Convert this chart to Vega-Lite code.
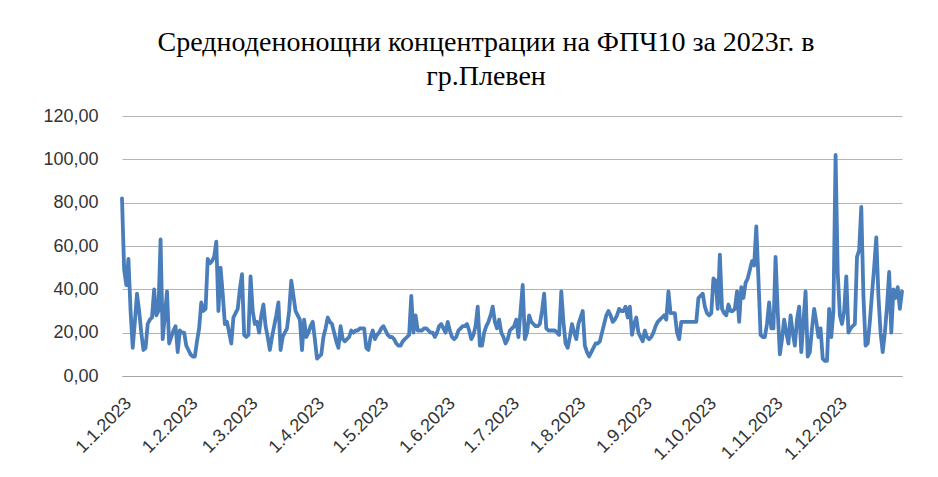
{
"$schema":"https://vega.github.io/schema/vega-lite/v6.json",
"width":780,"height":260,
"autosize":{"type":"none"},
"padding":{"left":122,"top":116,"right":36,"bottom":101},
"background":"white",
"title":{"text":["Средноденонощни концентрации на ФПЧ10 за 2023г.  в","гр.Плевен"],"font":"Liberation Serif","fontSize":28,"fontWeight":"normal","color":"#000000","anchor":"middle","frame":"group","lineHeight":34,"offset":16,"dx":-26},
"data":{"values":[
{"date":"2023-01-01","v":82},{"date":"2023-01-02","v":49},{"date":"2023-01-03","v":42},{"date":"2023-01-04","v":54},{"date":"2023-01-05","v":30},{"date":"2023-01-06","v":13},{"date":"2023-01-07","v":25},{"date":"2023-01-08","v":38},{"date":"2023-01-09","v":30},{"date":"2023-01-10","v":20},{"date":"2023-01-11","v":12},{"date":"2023-01-12","v":13},{"date":"2023-01-13","v":24},{"date":"2023-01-14","v":26},{"date":"2023-01-15","v":27},{"date":"2023-01-16","v":40},{"date":"2023-01-17","v":28},{"date":"2023-01-18","v":30},{"date":"2023-01-19","v":63},{"date":"2023-01-20","v":17},{"date":"2023-01-21","v":28},{"date":"2023-01-22","v":39},{"date":"2023-01-23","v":15},{"date":"2023-01-24","v":18},{"date":"2023-01-25","v":21},{"date":"2023-01-26","v":23},{"date":"2023-01-27","v":11},{"date":"2023-01-28","v":21},{"date":"2023-01-29","v":20},{"date":"2023-01-30","v":20},{"date":"2023-01-31","v":14},
{"date":"2023-02-01","v":12},{"date":"2023-02-02","v":10},{"date":"2023-02-03","v":9},{"date":"2023-02-04","v":9},{"date":"2023-02-05","v":16},{"date":"2023-02-06","v":22},{"date":"2023-02-07","v":34},{"date":"2023-02-08","v":30},{"date":"2023-02-09","v":31},{"date":"2023-02-10","v":54},{"date":"2023-02-11","v":52},{"date":"2023-02-12","v":53},{"date":"2023-02-13","v":55},{"date":"2023-02-14","v":62},{"date":"2023-02-15","v":30},{"date":"2023-02-16","v":50},{"date":"2023-02-17","v":38},{"date":"2023-02-18","v":24},{"date":"2023-02-19","v":25},{"date":"2023-02-20","v":20},{"date":"2023-02-21","v":15},{"date":"2023-02-22","v":27},{"date":"2023-02-23","v":29},{"date":"2023-02-24","v":31},{"date":"2023-02-25","v":40},{"date":"2023-02-26","v":47},{"date":"2023-02-27","v":19},{"date":"2023-02-28","v":18},
{"date":"2023-03-01","v":19},{"date":"2023-03-02","v":46},{"date":"2023-03-03","v":30},{"date":"2023-03-04","v":24},{"date":"2023-03-05","v":25},{"date":"2023-03-06","v":20},{"date":"2023-03-07","v":28},{"date":"2023-03-08","v":33},{"date":"2023-03-09","v":23},{"date":"2023-03-10","v":18},{"date":"2023-03-11","v":12},{"date":"2023-03-12","v":18},{"date":"2023-03-13","v":23},{"date":"2023-03-14","v":28},{"date":"2023-03-15","v":34},{"date":"2023-03-16","v":12},{"date":"2023-03-17","v":18},{"date":"2023-03-18","v":20},{"date":"2023-03-19","v":22},{"date":"2023-03-20","v":30},{"date":"2023-03-21","v":44},{"date":"2023-03-22","v":37},{"date":"2023-03-23","v":30},{"date":"2023-03-24","v":28},{"date":"2023-03-25","v":26},{"date":"2023-03-26","v":12},{"date":"2023-03-27","v":26},{"date":"2023-03-28","v":18},{"date":"2023-03-29","v":20},{"date":"2023-03-30","v":23},{"date":"2023-03-31","v":25},
{"date":"2023-04-01","v":17},{"date":"2023-04-02","v":8},{"date":"2023-04-03","v":9},{"date":"2023-04-04","v":10},{"date":"2023-04-05","v":18},{"date":"2023-04-06","v":22},{"date":"2023-04-07","v":27},{"date":"2023-04-08","v":25},{"date":"2023-04-09","v":24},{"date":"2023-04-10","v":20},{"date":"2023-04-11","v":16},{"date":"2023-04-12","v":13},{"date":"2023-04-13","v":23},{"date":"2023-04-14","v":17},{"date":"2023-04-15","v":16},{"date":"2023-04-16","v":17},{"date":"2023-04-17","v":18},{"date":"2023-04-18","v":21},{"date":"2023-04-19","v":20},{"date":"2023-04-20","v":21},{"date":"2023-04-21","v":21},{"date":"2023-04-22","v":22},{"date":"2023-04-23","v":22},{"date":"2023-04-24","v":22},{"date":"2023-04-25","v":13},{"date":"2023-04-26","v":12},{"date":"2023-04-27","v":18},{"date":"2023-04-28","v":21},{"date":"2023-04-29","v":17},{"date":"2023-04-30","v":19},
{"date":"2023-05-01","v":20},{"date":"2023-05-02","v":22},{"date":"2023-05-03","v":23},{"date":"2023-05-04","v":21},{"date":"2023-05-05","v":19},{"date":"2023-05-06","v":18},{"date":"2023-05-07","v":18},{"date":"2023-05-08","v":17},{"date":"2023-05-09","v":15},{"date":"2023-05-10","v":14},{"date":"2023-05-11","v":14},{"date":"2023-05-12","v":16},{"date":"2023-05-13","v":17},{"date":"2023-05-14","v":18},{"date":"2023-05-15","v":19},{"date":"2023-05-16","v":37},{"date":"2023-05-17","v":20},{"date":"2023-05-18","v":28},{"date":"2023-05-19","v":21},{"date":"2023-05-20","v":21},{"date":"2023-05-21","v":21},{"date":"2023-05-22","v":22},{"date":"2023-05-23","v":22},{"date":"2023-05-24","v":21},{"date":"2023-05-25","v":20},{"date":"2023-05-26","v":20},{"date":"2023-05-27","v":18},{"date":"2023-05-28","v":20},{"date":"2023-05-29","v":23},{"date":"2023-05-30","v":24},{"date":"2023-05-31","v":22},
{"date":"2023-06-01","v":20},{"date":"2023-06-02","v":25},{"date":"2023-06-03","v":21},{"date":"2023-06-04","v":18},{"date":"2023-06-05","v":17},{"date":"2023-06-06","v":18},{"date":"2023-06-07","v":21},{"date":"2023-06-08","v":22},{"date":"2023-06-09","v":23},{"date":"2023-06-10","v":23},{"date":"2023-06-11","v":24},{"date":"2023-06-12","v":21},{"date":"2023-06-13","v":17},{"date":"2023-06-14","v":19},{"date":"2023-06-15","v":23},{"date":"2023-06-16","v":32},{"date":"2023-06-17","v":14},{"date":"2023-06-18","v":14},{"date":"2023-06-19","v":20},{"date":"2023-06-20","v":23},{"date":"2023-06-21","v":25},{"date":"2023-06-22","v":28},{"date":"2023-06-23","v":32},{"date":"2023-06-24","v":25},{"date":"2023-06-25","v":22},{"date":"2023-06-26","v":26},{"date":"2023-06-27","v":20},{"date":"2023-06-28","v":18},{"date":"2023-06-29","v":15},{"date":"2023-06-30","v":17},
{"date":"2023-07-01","v":21},{"date":"2023-07-02","v":22},{"date":"2023-07-03","v":23},{"date":"2023-07-04","v":26},{"date":"2023-07-05","v":18},{"date":"2023-07-06","v":30},{"date":"2023-07-07","v":42},{"date":"2023-07-08","v":17},{"date":"2023-07-09","v":20},{"date":"2023-07-10","v":28},{"date":"2023-07-11","v":25},{"date":"2023-07-12","v":24},{"date":"2023-07-13","v":23},{"date":"2023-07-14","v":23},{"date":"2023-07-15","v":24},{"date":"2023-07-16","v":30},{"date":"2023-07-17","v":38},{"date":"2023-07-18","v":22},{"date":"2023-07-19","v":21},{"date":"2023-07-20","v":21},{"date":"2023-07-21","v":21},{"date":"2023-07-22","v":21},{"date":"2023-07-23","v":20},{"date":"2023-07-24","v":19},{"date":"2023-07-25","v":39},{"date":"2023-07-26","v":25},{"date":"2023-07-27","v":15},{"date":"2023-07-28","v":13},{"date":"2023-07-29","v":18},{"date":"2023-07-30","v":24},{"date":"2023-07-31","v":20},
{"date":"2023-08-01","v":17},{"date":"2023-08-02","v":24},{"date":"2023-08-03","v":27},{"date":"2023-08-04","v":30},{"date":"2023-08-05","v":14},{"date":"2023-08-06","v":11},{"date":"2023-08-07","v":9},{"date":"2023-08-08","v":11},{"date":"2023-08-09","v":13},{"date":"2023-08-10","v":15},{"date":"2023-08-11","v":15},{"date":"2023-08-12","v":16},{"date":"2023-08-13","v":20},{"date":"2023-08-14","v":24},{"date":"2023-08-15","v":28},{"date":"2023-08-16","v":30},{"date":"2023-08-17","v":28},{"date":"2023-08-18","v":25},{"date":"2023-08-19","v":26},{"date":"2023-08-20","v":28},{"date":"2023-08-21","v":31},{"date":"2023-08-22","v":30},{"date":"2023-08-23","v":30},{"date":"2023-08-24","v":32},{"date":"2023-08-25","v":27},{"date":"2023-08-26","v":32},{"date":"2023-08-27","v":19},{"date":"2023-08-28","v":24},{"date":"2023-08-29","v":27},{"date":"2023-08-30","v":20},{"date":"2023-08-31","v":18},
{"date":"2023-09-01","v":16},{"date":"2023-09-02","v":21},{"date":"2023-09-03","v":18},{"date":"2023-09-04","v":17},{"date":"2023-09-05","v":18},{"date":"2023-09-06","v":20},{"date":"2023-09-07","v":23},{"date":"2023-09-08","v":25},{"date":"2023-09-09","v":26},{"date":"2023-09-10","v":27},{"date":"2023-09-11","v":28},{"date":"2023-09-12","v":26},{"date":"2023-09-13","v":39},{"date":"2023-09-14","v":29},{"date":"2023-09-15","v":29},{"date":"2023-09-16","v":29},{"date":"2023-09-17","v":20},{"date":"2023-09-18","v":17},{"date":"2023-09-19","v":25},{"date":"2023-09-20","v":25},{"date":"2023-09-21","v":25},{"date":"2023-09-22","v":25},{"date":"2023-09-23","v":25},{"date":"2023-09-24","v":25},{"date":"2023-09-25","v":25},{"date":"2023-09-26","v":25},{"date":"2023-09-27","v":36},{"date":"2023-09-28","v":37},{"date":"2023-09-29","v":38},{"date":"2023-09-30","v":32},
{"date":"2023-10-01","v":29},{"date":"2023-10-02","v":28},{"date":"2023-10-03","v":29},{"date":"2023-10-04","v":45},{"date":"2023-10-05","v":44},{"date":"2023-10-06","v":31},{"date":"2023-10-07","v":56},{"date":"2023-10-08","v":31},{"date":"2023-10-09","v":29},{"date":"2023-10-10","v":28},{"date":"2023-10-11","v":33},{"date":"2023-10-12","v":30},{"date":"2023-10-13","v":30},{"date":"2023-10-14","v":31},{"date":"2023-10-15","v":39},{"date":"2023-10-16","v":25},{"date":"2023-10-17","v":41},{"date":"2023-10-18","v":36},{"date":"2023-10-19","v":43},{"date":"2023-10-20","v":45},{"date":"2023-10-21","v":49},{"date":"2023-10-22","v":53},{"date":"2023-10-23","v":51},{"date":"2023-10-24","v":69},{"date":"2023-10-25","v":45},{"date":"2023-10-26","v":19},{"date":"2023-10-27","v":18},{"date":"2023-10-28","v":18},{"date":"2023-10-29","v":24},{"date":"2023-10-30","v":34},{"date":"2023-10-31","v":22},
{"date":"2023-11-01","v":22},{"date":"2023-11-02","v":55},{"date":"2023-11-03","v":30},{"date":"2023-11-04","v":10},{"date":"2023-11-05","v":17},{"date":"2023-11-06","v":26},{"date":"2023-11-07","v":20},{"date":"2023-11-08","v":15},{"date":"2023-11-09","v":28},{"date":"2023-11-10","v":20},{"date":"2023-11-11","v":14},{"date":"2023-11-12","v":26},{"date":"2023-11-13","v":32},{"date":"2023-11-14","v":11},{"date":"2023-11-15","v":25},{"date":"2023-11-16","v":39},{"date":"2023-11-17","v":9},{"date":"2023-11-18","v":11},{"date":"2023-11-19","v":22},{"date":"2023-11-20","v":31},{"date":"2023-11-21","v":25},{"date":"2023-11-22","v":18},{"date":"2023-11-23","v":22},{"date":"2023-11-24","v":8},{"date":"2023-11-25","v":7},{"date":"2023-11-26","v":7},{"date":"2023-11-27","v":31},{"date":"2023-11-28","v":18},{"date":"2023-11-29","v":30},{"date":"2023-11-30","v":102},
{"date":"2023-12-01","v":48},{"date":"2023-12-02","v":28},{"date":"2023-12-03","v":24},{"date":"2023-12-04","v":30},{"date":"2023-12-05","v":46},{"date":"2023-12-06","v":20},{"date":"2023-12-07","v":22},{"date":"2023-12-08","v":23},{"date":"2023-12-09","v":24},{"date":"2023-12-10","v":55},{"date":"2023-12-11","v":58},{"date":"2023-12-12","v":78},{"date":"2023-12-13","v":37},{"date":"2023-12-14","v":14},{"date":"2023-12-15","v":15},{"date":"2023-12-16","v":25},{"date":"2023-12-17","v":38},{"date":"2023-12-18","v":50},{"date":"2023-12-19","v":64},{"date":"2023-12-20","v":37},{"date":"2023-12-21","v":20},{"date":"2023-12-22","v":11},{"date":"2023-12-23","v":20},{"date":"2023-12-24","v":32},{"date":"2023-12-25","v":48},{"date":"2023-12-26","v":20},{"date":"2023-12-27","v":40},{"date":"2023-12-28","v":36},{"date":"2023-12-29","v":41},{"date":"2023-12-30","v":31},{"date":"2023-12-31","v":39}
]},
"mark":{"type":"line","color":"#4a7ebb","strokeWidth":3.8,"strokeJoin":"round","strokeCap":"round"},
"encoding":{
"x":{"field":"date","type":"temporal","title":null,
"scale":{"type":"utc","domain":[{"year":2023,"month":1,"date":1,"utc":true},{"year":2023,"month":12,"date":31,"utc":true}]},
"axis":{"tickCount":{"interval":"month","step":1},"labelExpr":"utcFormat(datum.value, '%-d.%-m.%Y')","labelAngle":-45,"labelFont":"Liberation Sans","labelFontSize":18,"labelColor":"#333333","labelPadding":18,"ticks":false,"grid":false,"domain":true,"domainColor":"#a6a6a6","domainWidth":1.2,"labelFlush":false,"labelOverlap":false}},
"y":{"field":"v","type":"quantitative","title":null,
"scale":{"domain":[0,120],"nice":false},
"axis":{"values":[0,20,40,60,80,100,120],"labelExpr":"replace(format(datum.value,'.2f'),'.',',')","labelFont":"Liberation Sans","labelFontSize":18,"labelColor":"#333333","labelPadding":24,"ticks":false,"domain":false,"grid":true,"gridColor":"#b4b4b4","gridWidth":1.2}}
},
"config":{"view":{"stroke":null},"title":{"font":"Liberation Serif","fontWeight":"normal"}}
}
